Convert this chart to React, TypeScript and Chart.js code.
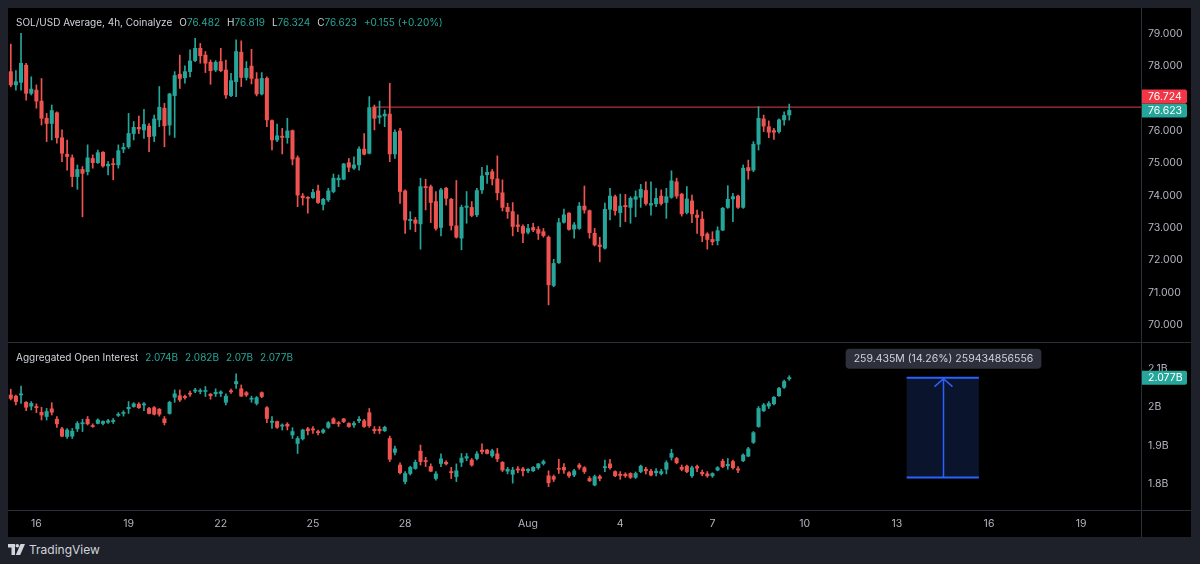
import React, { useEffect, useRef } from "react";
import { Chart, registerables } from "chart.js";

Chart.register(...registerables);

// ---------- time axis (x values are "day of July"; Aug n = 31 + n) ----------
const FIRST_BAR_DAY = 15 + 4 / 24; // Jul 15 04:00
const BAR_DAYS = 4 / 24; // 4h candles
const X_MIN = 15.076;
const X_MAX = 51.946;
const TIME_TICKS = [16, 19, 22, 25, 28, 32, 35, 38, 41, 44, 47, 50];
const TIME_LABELS = ["16", "19", "22", "25", "28", "Aug", "4", "7", "10", "13", "16", "19"];

// ---------- SOL/USD 4h candles ----------
const PRICE_OPEN = [
  77.82, 77.41, 77.49, 78.02, 77.15, 77.25, 76.91, 76.38, 76.22, 76.55,
  75.78, 75.27, 75.16, 74.58, 74.8, 74.73, 75.14, 75.01, 75.33, 74.91,
  74.97, 74.94, 75.43, 75.5, 75.91, 76.1, 76.02, 76.14, 75.83, 76.33,
  76.69, 76.17, 77.08, 77.74, 77.63, 77.82, 78.16, 78.54, 78.33, 78.11,
  77.87, 78.13, 77.87, 77.08, 77.51, 78.42, 77.64, 77.99, 77.59, 77.13,
  77.61, 76.31, 75.71, 75.83, 75.78, 76.0, 75.16, 73.98, 73.94, 73.93,
  74.14, 73.72, 73.86, 74.12, 74.48, 74.5, 75.01, 74.84, 74.94, 75.43,
  75.3, 76.71, 76.41, 76.45, 76.51, 75.28, 75.99, 74.14, 73.22, 73.24,
  73.12, 74.27, 74.27, 73.81, 73.01, 74.22, 73.88, 73.06, 72.68, 73.63,
  73.63, 73.4, 74.17, 74.64, 74.73, 74.51, 74.08, 73.63, 73.5, 73.09,
  73.04, 72.86, 73.01, 72.95, 72.88, 72.71, 71.22, 71.92, 73.17, 73.45,
  72.96, 72.98, 73.67, 73.53, 72.83, 72.47, 72.37, 73.57, 73.96, 73.47,
  73.69, 73.63, 73.88, 73.94, 74.15, 73.7, 73.74, 73.98, 73.78, 73.94,
  74.42, 74.04, 73.47, 73.83, 73.39, 73.27, 72.81, 72.64, 72.6, 72.93,
  73.63, 73.89, 73.98, 73.63, 74.86, 74.78, 75.58, 76.36, 76.12, 76.0,
  75.97, 76.33, 76.482,
];
const PRICE_HIGH = [
  78.67, 77.85, 79.0, 78.08, 77.66, 77.41, 77.61, 76.53, 76.79, 76.58,
  76.02, 75.71, 75.25, 74.94, 74.89, 75.56, 75.25, 75.4, 75.35, 75.04,
  75.14, 75.56, 75.61, 76.53, 76.28, 76.45, 76.66, 76.22, 76.48, 77.36,
  76.84, 77.15, 77.82, 78.33, 78.0, 78.49, 78.85, 78.69, 78.44, 78.18,
  78.16, 78.54, 78.18, 77.77, 78.8, 78.77, 78.13, 78.51, 77.79, 77.79,
  77.66, 76.33, 76.2, 76.07, 76.38, 76.02, 75.22, 74.06, 73.96, 74.19,
  74.32, 73.91, 74.22, 74.66, 74.63, 74.99, 75.14, 75.19, 75.5, 75.91,
  77.05, 76.79, 76.91, 76.64, 77.46, 76.02, 76.07, 74.17, 73.5, 73.32,
  74.53, 74.5, 74.32, 74.12, 74.22, 74.25, 73.91, 74.46, 73.7, 74.12,
  73.81, 74.22, 74.87, 74.92, 74.8, 75.22, 74.48, 73.76, 73.78, 73.4,
  73.09, 73.11, 73.14, 73.04, 72.98, 72.75, 72.03, 73.29, 73.58, 73.47,
  73.16, 73.78, 74.29, 73.55, 72.98, 72.71, 73.76, 74.22, 74.01, 74.04,
  74.03, 73.96, 74.14, 74.34, 74.42, 74.42, 74.22, 74.17, 74.22, 74.76,
  74.53, 74.06, 74.27, 74.01, 73.55, 73.5, 72.85, 72.88, 73.03, 73.63,
  74.3, 74.06, 74.01, 74.94, 75.09, 75.66, 76.74, 76.48, 76.3, 76.07,
  76.36, 76.58, 76.819,
];
const PRICE_LOW = [
  77.35, 77.25, 77.25, 76.94, 77.1, 76.69, 76.17, 75.66, 75.71, 75.61,
  75.04, 74.78, 74.27, 74.19, 73.34, 74.63, 74.84, 74.99, 74.87, 74.63,
  74.48, 74.84, 75.32, 75.45, 75.71, 75.91, 75.76, 75.35, 75.66, 76.12,
  75.5, 75.86, 75.79, 77.3, 77.46, 77.66, 78.13, 78.08, 77.79, 77.43,
  77.82, 77.82, 76.99, 77.05, 77.05, 77.36, 77.56, 77.44, 77.07, 77.1,
  76.12, 75.4, 75.66, 75.28, 75.61, 74.94, 73.65, 73.7, 73.45, 73.91,
  73.75, 73.55, 73.81, 74.08, 74.27, 74.48, 74.73, 74.8, 74.78, 75.25,
  75.28, 76.02, 76.22, 76.12, 75.04, 75.14, 73.75, 72.83, 72.95, 72.88,
  72.34, 73.55, 73.16, 72.93, 72.75, 73.7, 72.93, 72.68, 72.32, 73.14,
  73.34, 73.34, 74.06, 74.37, 74.32, 73.86, 73.52, 73.29, 72.75, 72.88,
  72.54, 72.81, 72.88, 72.64, 72.71, 70.62, 71.18, 71.9, 73.14, 72.93,
  72.68, 72.95, 73.45, 72.68, 72.44, 71.95, 72.34, 73.24, 73.39, 73.03,
  73.19, 73.14, 73.34, 73.63, 73.7, 73.39, 73.65, 73.7, 73.29, 73.91,
  73.91, 73.36, 73.43, 73.16, 72.83, 72.57, 72.34, 72.47, 72.47, 72.91,
  73.6, 73.19, 73.6, 73.6, 74.5, 74.73, 75.4, 75.97, 75.78, 75.73,
  75.92, 76.17, 76.324,
];
const PRICE_CLOSE = [
  77.41, 77.51, 78.08, 77.15, 77.28, 76.91, 76.38, 76.22, 76.62, 75.78,
  75.3, 75.2, 74.58, 74.8, 74.68, 75.16, 75.01, 75.32, 74.91, 74.96,
  74.95, 75.38, 75.48, 75.91, 76.1, 76.05, 76.19, 75.81, 76.36, 76.72,
  76.15, 77.13, 77.7, 77.61, 77.82, 78.15, 78.54, 78.31, 78.08, 77.85,
  78.11, 77.85, 77.1, 77.54, 78.44, 77.64, 77.92, 77.61, 77.13, 77.61,
  76.33, 75.71, 75.84, 75.79, 75.99, 75.12, 74.01, 73.93, 73.91, 74.09,
  73.78, 73.88, 74.14, 74.53, 74.53, 74.97, 74.87, 74.94, 75.43, 75.27,
  76.71, 76.38, 76.46, 76.51, 75.28, 75.95, 74.12, 73.24, 73.26, 73.14,
  74.27, 74.24, 73.78, 72.98, 74.17, 73.91, 73.07, 72.71, 73.63, 73.67,
  73.38, 74.15, 74.6, 74.71, 74.51, 74.08, 73.63, 73.5, 73.04, 73.04,
  72.83, 72.98, 72.93, 72.83, 72.76, 71.24, 71.9, 73.16, 73.4, 72.95,
  73.09, 73.67, 73.55, 72.85, 72.47, 72.42, 73.57, 73.98, 73.53, 73.67,
  73.65, 73.91, 73.96, 74.19, 73.75, 73.75, 73.91, 73.75, 73.96, 74.45,
  73.98, 73.43, 73.89, 73.43, 73.32, 72.75, 72.64, 72.57, 72.91, 73.6,
  73.88, 73.96, 73.63, 74.84, 74.76, 75.58, 76.38, 76.14, 75.95, 75.95,
  76.33, 76.468, 76.623,
];

// ---------- Aggregated Open Interest (billions) ----------
const OI_OPEN = [
  2.032, 2.029, 2.032, 2.013, 2.003, 2.002, 1.987, 1.976, 1.996, 1.969,
  1.944, 1.924, 1.925, 1.944, 1.957, 1.969, 1.952, 1.958, 1.958, 1.961,
  1.963, 1.979, 1.984, 1.996, 2.002, 2.008, 2.006, 1.997, 1.999, 1.995,
  1.97, 1.984, 2.026, 2.03, 2.028, 2.036, 2.042, 2.041, 2.041, 2.034,
  2.035, 2.036, 2.013, 2.043, 2.061, 2.048, 2.038, 2.021, 2.01, 2.038,
  1.999, 1.961, 1.963, 1.951, 1.956, 1.928, 1.906, 1.918, 1.944, 1.944,
  1.937, 1.935, 1.948, 1.97, 1.96, 1.97, 1.958, 1.954, 1.965, 1.965,
  1.986, 1.943, 1.943, 1.939, 1.919, 1.883, 1.85, 1.807, 1.828, 1.841,
  1.886, 1.861, 1.846, 1.815, 1.854, 1.857, 1.833, 1.82, 1.857, 1.868,
  1.863, 1.867, 1.889, 1.889, 1.874, 1.879, 1.857, 1.834, 1.826, 1.84,
  1.84, 1.835, 1.835, 1.843, 1.854, 1.822, 1.82, 1.841, 1.844, 1.83,
  1.824, 1.85, 1.843, 1.815, 1.798, 1.82, 1.843, 1.853, 1.833, 1.826,
  1.826, 1.828, 1.818, 1.833, 1.839, 1.834, 1.83, 1.828, 1.839, 1.87,
  1.867, 1.844, 1.847, 1.822, 1.846, 1.831, 1.827, 1.822, 1.837, 1.86,
  1.848, 1.859, 1.84, 1.861, 1.873, 1.909, 1.95, 1.991, 2.003, 2.009,
  2.03, 2.052, 2.074,
];
const OI_HIGH = [
  2.047, 2.032, 2.055, 2.015, 2.015, 2.009, 2.0, 1.997, 2.012, 1.976,
  1.948, 1.945, 1.945, 1.963, 1.969, 1.976, 1.957, 1.97, 1.965, 1.969,
  1.971, 1.986, 1.991, 2.015, 2.012, 2.012, 2.012, 2.0, 2.002, 1.997,
  1.976, 2.016, 2.045, 2.045, 2.032, 2.042, 2.049, 2.048, 2.054, 2.036,
  2.048, 2.043, 2.035, 2.047, 2.087, 2.058, 2.041, 2.029, 2.028, 2.04,
  2.002, 1.976, 1.964, 1.957, 1.96, 1.947, 1.924, 1.943, 1.948, 1.95,
  1.941, 1.944, 1.963, 1.973, 1.963, 1.971, 1.96, 1.963, 1.976, 1.969,
  1.997, 1.95, 1.95, 1.951, 1.925, 1.899, 1.856, 1.833, 1.847, 1.863,
  1.902, 1.87, 1.853, 1.833, 1.879, 1.861, 1.844, 1.853, 1.88, 1.88,
  1.867, 1.885, 1.905, 1.891, 1.891, 1.893, 1.859, 1.844, 1.844, 1.846,
  1.844, 1.841, 1.846, 1.854, 1.863, 1.835, 1.824, 1.865, 1.854, 1.833,
  1.839, 1.854, 1.846, 1.82, 1.824, 1.824, 1.863, 1.865, 1.835, 1.833,
  1.83, 1.83, 1.832, 1.85, 1.844, 1.839, 1.841, 1.839, 1.861, 1.891,
  1.87, 1.85, 1.85, 1.847, 1.85, 1.837, 1.833, 1.83, 1.846, 1.865,
  1.867, 1.863, 1.846, 1.879, 1.896, 1.937, 2.002, 2.01, 2.015, 2.028,
  2.052, 2.071, 2.082,
];
const OI_LOW = [
  2.019, 2.006, 2.01, 1.991, 1.993, 1.986, 1.967, 1.967, 1.98, 1.948,
  1.924, 1.919, 1.919, 1.937, 1.937, 1.954, 1.948, 1.957, 1.954, 1.958,
  1.958, 1.976, 1.977, 1.984, 2.0, 1.997, 1.991, 1.983, 1.98, 1.977,
  1.954, 1.982, 2.013, 2.015, 2.021, 2.028, 2.038, 2.035, 2.028, 2.021,
  2.028, 2.028, 2.006, 2.036, 2.049, 2.028, 2.028, 2.013, 2.006, 2.025,
  1.96, 1.945, 1.945, 1.941, 1.941, 1.919, 1.88, 1.915, 1.928, 1.932,
  1.928, 1.932, 1.945, 1.957, 1.95, 1.96, 1.948, 1.948, 1.96, 1.948,
  1.948, 1.932, 1.932, 1.937, 1.859, 1.876, 1.827, 1.801, 1.824, 1.839,
  1.85, 1.846, 1.833, 1.811, 1.846, 1.85, 1.815, 1.807, 1.846, 1.861,
  1.847, 1.863, 1.879, 1.879, 1.87, 1.859, 1.833, 1.827, 1.803, 1.83,
  1.822, 1.83, 1.833, 1.839, 1.85, 1.794, 1.807, 1.828, 1.828, 1.818,
  1.82, 1.839, 1.828, 1.807, 1.796, 1.809, 1.833, 1.839, 1.82, 1.813,
  1.818, 1.815, 1.815, 1.83, 1.827, 1.822, 1.822, 1.824, 1.827, 1.863,
  1.853, 1.835, 1.83, 1.818, 1.833, 1.822, 1.818, 1.818, 1.835, 1.843,
  1.839, 1.839, 1.83, 1.859, 1.872, 1.906, 1.948, 1.989, 1.997, 2.006,
  2.028, 2.049, 2.07,
];
const OI_CLOSE = [
  2.023, 2.015, 2.035, 2.0, 2.01, 1.999, 1.98, 1.989, 1.987, 1.957,
  1.925, 1.941, 1.938, 1.958, 1.96, 1.957, 1.95, 1.967, 1.963, 1.965,
  1.966, 1.982, 1.986, 2.0, 2.009, 1.999, 2.009, 1.984, 1.982, 1.982,
  1.96, 2.013, 2.035, 2.019, 2.025, 2.034, 2.045, 2.043, 2.043, 2.03,
  2.039, 2.04, 2.029, 2.04, 2.067, 2.029, 2.032, 2.023, 2.025, 2.028,
  1.971, 1.964, 1.948, 1.954, 1.951, 1.937, 1.919, 1.941, 1.939, 1.941,
  1.934, 1.941, 1.96, 1.958, 1.957, 1.963, 1.95, 1.958, 1.969, 1.95,
  1.952, 1.939, 1.939, 1.948, 1.865, 1.892, 1.83, 1.828, 1.844, 1.857,
  1.859, 1.859, 1.834, 1.827, 1.866, 1.853, 1.83, 1.835, 1.868, 1.872,
  1.85, 1.879, 1.885, 1.88, 1.887, 1.866, 1.837, 1.839, 1.837, 1.837,
  1.835, 1.839, 1.844, 1.853, 1.859, 1.804, 1.813, 1.839, 1.837, 1.822,
  1.835, 1.844, 1.833, 1.809, 1.82, 1.815, 1.846, 1.843, 1.822, 1.823,
  1.822, 1.818, 1.828, 1.847, 1.835, 1.824, 1.834, 1.833, 1.856, 1.88,
  1.856, 1.839, 1.833, 1.843, 1.842, 1.827, 1.822, 1.828, 1.843, 1.846,
  1.852, 1.843, 1.837, 1.876, 1.892, 1.934, 1.997, 2.006, 2.01, 2.026,
  2.049, 2.067, 2.077,
];

// ---------- axes and drawings ----------
const PRICE_TICKS = [70, 71, 72, 73, 74, 75, 76, 77, 78, 79];
const PRICE_MIN = 69.444;
const PRICE_MAX = 79.784;
const OI_TICKS = [1.8, 1.9, 2.0, 2.1];
const OI_MIN = 1.7332;
const OI_MAX = 2.167;
const LEVEL_PRICE = 76.724;
const LEVEL_START_DAY = 26.92;
const MEASURE_START_DAY = 44.32;
const MEASURE_END_DAY = 46.67;
const MEASURE_TOP = 2.077;
const MEASURE_BOTTOM = 1.81757;
const MEASURE_LABEL = "259.435M (14.26%) 259434856556";

const UP = "#26a69a";
const DOWN = "#ef5350";
const TAG_RED = "#f23645";
const TEXT = "#d1d4dc";
const AXIS_TEXT = "#b2b5be";
const LINE = "#2a2e39";
const FONT = "Inter, 'Noto Sans', sans-serif";

function candleDatasets(o: number[], h: number[], l: number[], c: number[]) {
  const xs = o.map((_, i) => FIRST_BAR_DAY + i * BAR_DAYS);
  const colors = o.map((v, i) => (c[i] >= v ? UP : DOWN));
  return [
    {
      type: "bar" as const,
      data: xs.map((x, i) => ({ x, y: [o[i], c[i]] })),
      backgroundColor: colors,
      borderWidth: 0,
      barThickness: 3.4,
      minBarLength: 1,
      grouped: false,
      order: 0,
    },
    {
      type: "bar" as const,
      data: xs.map((x, i) => ({ x, y: [l[i], h[i]] })),
      backgroundColor: colors,
      borderWidth: 0,
      barThickness: 1,
      grouped: false,
      order: 1,
    },
  ];
}

function drawTag(ctx: CanvasRenderingContext2D, left: number, cy: number, text: string, bg: string) {
  const w = 46;
  const h = 14;
  ctx.save();
  ctx.fillStyle = bg;
  ctx.beginPath();
  (ctx as any).roundRect(left, cy - h / 2, w, h, [0, 2, 2, 0]);
  ctx.fill();
  ctx.fillStyle = "#ffffff";
  ctx.font = `10.5px ${FONT}`;
  ctx.textAlign = "left";
  ctx.textBaseline = "middle";
  ctx.fillText(text, left + 7, cy + 0.5);
  ctx.restore();
}

const fmtB = (v: number) => `${+v.toFixed(3)}B`;

export default function App() {
  const priceRef = useRef<HTMLCanvasElement>(null);
  const oiRef = useRef<HTMLCanvasElement>(null);

  useEffect(() => {
    Chart.defaults.font.family = FONT;
    Chart.defaults.font.size = 10.5;

    const xScale = (show: boolean) => ({
      type: "linear" as const,
      min: X_MIN,
      max: X_MAX,
      offset: false,
      display: show,
      grid: { display: false, drawTicks: false },
      border: { display: false },
      afterBuildTicks: (s: any) => {
        s.ticks = TIME_TICKS.map((v) => ({ value: v }));
      },
      afterFit: (s: any) => {
        if (show) s.height = 27;
        s.paddingLeft = 0;
        s.paddingRight = 0;
      },
      ticks: {
        autoSkip: false,
        maxRotation: 0,
        padding: 8,
        color: AXIS_TEXT,
        callback: (_v: any, i: number) => TIME_LABELS[i],
      },
    });

    const yScale = (min: number, max: number, ticks: number[], fmt: (v: number) => string) => ({
      type: "linear" as const,
      position: "right" as const,
      min,
      max,
      grid: { display: false, drawTicks: false },
      border: { display: false },
      afterBuildTicks: (s: any) => {
        s.ticks = ticks.map((v) => ({ value: v }));
      },
      afterFit: (s: any) => {
        s.width = 50;
        s.paddingTop = 0;
        s.paddingBottom = 0;
      },
      ticks: { color: AXIS_TEXT, padding: 7, callback: (v: any) => fmt(Number(v)) },
    });

    const pricePlugin = {
      id: "priceDecor",
      beforeDatasetsDraw(chart: any) {
        const { ctx, chartArea, scales } = chart;
        const y = scales.y.getPixelForValue(LEVEL_PRICE);
        ctx.save();
        ctx.strokeStyle = "#b3303a";
        ctx.lineWidth = 1.4;
        ctx.beginPath();
        ctx.moveTo(scales.x.getPixelForValue(LEVEL_START_DAY), y);
        ctx.lineTo(chartArea.right, y);
        ctx.stroke();
        ctx.restore();
      },
      afterDraw(chart: any) {
        const { ctx, chartArea, scales } = chart;
        const last = PRICE_CLOSE[PRICE_CLOSE.length - 1];
        const gy = scales.y.getPixelForValue(last);
        drawTag(ctx, chartArea.right, gy, last.toFixed(3), UP);
        drawTag(ctx, chartArea.right, gy - 14, LEVEL_PRICE.toFixed(3), TAG_RED);
      },
    };

    const oiPlugin = {
      id: "oiDecor",
      afterDraw(chart: any) {
        const { ctx, chartArea, scales } = chart;
        const x1 = scales.x.getPixelForValue(MEASURE_START_DAY);
        const x2 = scales.x.getPixelForValue(MEASURE_END_DAY);
        const xm = Math.round(scales.x.getPixelForValue((MEASURE_START_DAY + MEASURE_END_DAY) / 2)) + 0.5;
        const yt = scales.y.getPixelForValue(MEASURE_TOP);
        const yb = scales.y.getPixelForValue(MEASURE_BOTTOM);
        ctx.save();
        ctx.fillStyle = "#0b142d";
        ctx.fillRect(x1, yt, x2 - x1, yb - yt);
        ctx.strokeStyle = "#2962ff";
        ctx.lineWidth = 2;
        ctx.beginPath();
        ctx.moveTo(x1, yt);
        ctx.lineTo(x2, yt);
        ctx.moveTo(x1, yb);
        ctx.lineTo(x2, yb);
        ctx.stroke();
        ctx.lineWidth = 1.5;
        ctx.beginPath();
        ctx.moveTo(xm, yb);
        ctx.lineTo(xm, yt + 1);
        ctx.moveTo(xm - 9, yt + 9);
        ctx.lineTo(xm, yt + 1);
        ctx.lineTo(xm + 9, yt + 9);
        ctx.stroke();
        // label
        ctx.font = `10.5px ${FONT}`;
        const tw = ctx.measureText(MEASURE_LABEL).width;
        const lw = tw + 16;
        const lh = 20;
        ctx.fillStyle = "#2e313b";
        ctx.beginPath();
        (ctx as any).roundRect(xm - lw / 2, yt - 29, lw, lh, 4);
        ctx.fill();
        ctx.fillStyle = TEXT;
        ctx.textAlign = "center";
        ctx.textBaseline = "middle";
        ctx.fillText(MEASURE_LABEL, xm, yt - 29 + lh / 2 + 0.5);
        ctx.restore();
        const last = OI_CLOSE[OI_CLOSE.length - 1];
        drawTag(ctx, chartArea.right, scales.y.getPixelForValue(last), fmtB(last), UP);
      },
    };

    const common = {
      responsive: false,
      animation: false as const,
      events: [] as any[],
      layout: { padding: 0 },
      plugins: { legend: { display: false }, tooltip: { enabled: false } },
    };

    const priceChart = new Chart(priceRef.current!, {
      type: "bar",
      data: { datasets: candleDatasets(PRICE_OPEN, PRICE_HIGH, PRICE_LOW, PRICE_CLOSE) as any },
      options: {
        ...common,
        scales: {
          x: xScale(false) as any,
          y: yScale(PRICE_MIN, PRICE_MAX, PRICE_TICKS, (v) => v.toFixed(3)) as any,
        },
      } as any,
      plugins: [pricePlugin],
    });

    const oiChart = new Chart(oiRef.current!, {
      type: "bar",
      data: { datasets: candleDatasets(OI_OPEN, OI_HIGH, OI_LOW, OI_CLOSE) as any },
      options: {
        ...common,
        scales: {
          x: xScale(true) as any,
          y: yScale(OI_MIN, OI_MAX, OI_TICKS, (v) => `${+v.toFixed(1)}B`) as any,
        },
      } as any,
      plugins: [oiPlugin],
    });

    return () => {
      priceChart.destroy();
      oiChart.destroy();
    };
  }, []);

  const n = PRICE_CLOSE.length;
  const o = PRICE_OPEN[n - 1];
  const h = PRICE_HIGH[n - 1];
  const l = PRICE_LOW[n - 1];
  const c = PRICE_CLOSE[n - 1];
  const chg = c - PRICE_CLOSE[n - 2];
  const pct = (chg / PRICE_CLOSE[n - 2]) * 100;
  const sign = chg >= 0 ? "+" : "";
  const col = chg >= 0 ? UP : DOWN;

  const legendStyle: React.CSSProperties = {
    position: "absolute",
    left: 16,
    height: 16,
    display: "flex",
    alignItems: "center",
    gap: 7,
    fontSize: 10,
    color: TEXT,
    whiteSpace: "pre",
    fontFamily: FONT,
  };

  return (
    <div
      style={{
        position: "fixed",
        left: 0,
        top: 0,
        width: 1200,
        height: 564,
        background: "#1e2129",
        overflow: "hidden",
        fontFamily: FONT,
      }}
    >
      <div style={{ position: "absolute", left: 8, top: 8, width: 1183, height: 529, background: "#000" }} />
      <canvas
        ref={priceRef}
        width={1183}
        height={335}
        style={{ position: "absolute", left: 8, top: 8, width: 1183, height: 335 }}
      />
      <canvas
        ref={oiRef}
        width={1183}
        height={194}
        style={{ position: "absolute", left: 8, top: 343, width: 1183, height: 194 }}
      />
      {/* pane separators */}
      <div style={{ position: "absolute", left: 8, top: 342, width: 1183, height: 1, background: LINE }} />
      <div style={{ position: "absolute", left: 8, top: 510, width: 1183, height: 1, background: LINE }} />
      <div style={{ position: "absolute", left: 1141, top: 8, width: 1, height: 529, background: LINE }} />

      <div style={{ ...legendStyle, top: 14 }}>
        <span>SOL/USD Average, 4h, Coinalyze</span>
        <span>
          O<span style={{ color: col }}>{o.toFixed(3)}</span>
        </span>
        <span>
          H<span style={{ color: col }}>{h.toFixed(3)}</span>
        </span>
        <span>
          L<span style={{ color: col }}>{l.toFixed(3)}</span>
        </span>
        <span>
          C<span style={{ color: col }}>{c.toFixed(3)}</span>
        </span>
        <span style={{ color: col }}>{`${sign}${chg.toFixed(3)} (${sign}${pct.toFixed(2)}%)`}</span>
      </div>
      <div style={{ ...legendStyle, top: 349 }}>
        <span>Aggregated Open Interest</span>
        <span style={{ color: UP }}>{fmtB(OI_OPEN[n - 1])}</span>
        <span style={{ color: UP }}>{fmtB(OI_HIGH[n - 1])}</span>
        <span style={{ color: UP }}>{fmtB(OI_LOW[n - 1])}</span>
        <span style={{ color: UP }}>{fmtB(OI_CLOSE[n - 1])}</span>
      </div>

      <div
        style={{
          position: "absolute",
          left: 8,
          top: 541,
          height: 16,
          display: "flex",
          alignItems: "center",
          gap: 4,
          color: TEXT,
          fontSize: 12,
        }}
      >
        <svg width="17" height="11" viewBox="0 0 17 11">
          <path d="M0 0h7v11H3.5V3.5H0z" fill={TEXT} />
          <circle cx="9.3" cy="1.8" r="1.8" fill={TEXT} />
          <path d="M12.5 0H17L12.2 11H7.8z" fill={TEXT} />
        </svg>
        <span>TradingView</span>
      </div>
    </div>
  );
}
